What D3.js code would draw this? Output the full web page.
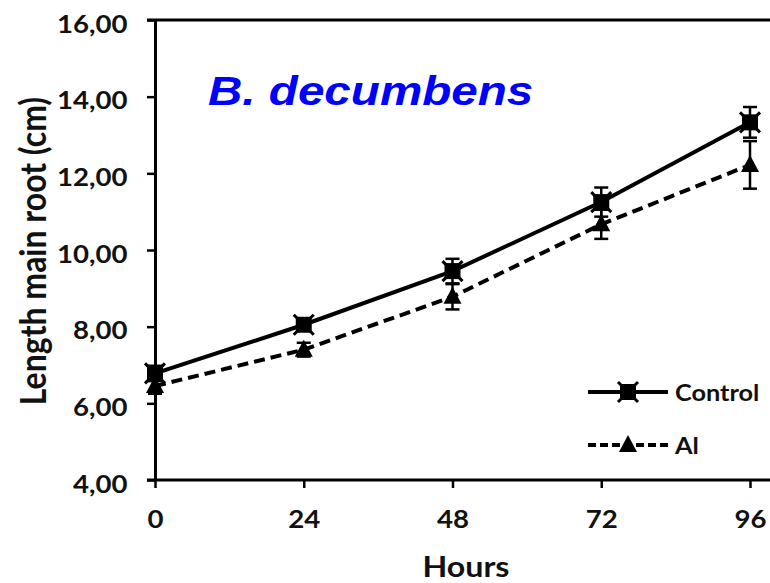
<!DOCTYPE html>
<html>
<head>
<meta charset="utf-8">
<script src="https://cdn.jsdelivr.net/npm/d3@7"></script>
<style>
  body { margin: 0; background: #fff; }
  svg { display: block; }
</style>
</head>
<body>
<svg id="chart" width="770" height="583"></svg>
<script>
// values
const hours = [0, 24, 48, 72, 96];
const controlMean = [6.78, 8.05, 9.45, 11.25, 13.33];
const controlErr = [0.2, 0.15, 0.32, 0.38, 0.4];
const alMean = [6.45, 7.4, 8.78, 10.67, 12.22];
const alErr = [0.2, 0.18, 0.33, 0.38, 0.62];
const yTicks = [4, 6, 8, 10, 12, 14, 16];
const seriesNames = ["Control", "Al"];

function whenDocumentLoaded(action) {
  if (document.readyState === "loading") {
    document.addEventListener("DOMContentLoaded", action);
  } else {
    action();
  }
}

whenDocumentLoaded(() => draw());

function draw() {
  const LEFT = 155, RIGHT = 750, TOP = 20, BOTTOM = 480;
  const STRETCH = 1.15; // the source picture is a bit wide
  const FONT = "Lato, 'Open Sans', sans-serif";

  const svg = d3.select("#chart");

  const x = d3.scaleLinear().domain([0, 96]).range([LEFT, RIGHT]);
  const y = d3.scaleLinear().domain([4, 16]).range([BOTTOM, TOP]);

  const comma = d => d3.format(".2f")(d).replace(".", ",");

  // top frame line
  svg.append("line")
    .attr("x1", LEFT - 8).attr("x2", 770)
    .attr("y1", y(16)).attr("y2", y(16))
    .attr("stroke", "#000").attr("stroke-width", 3);

  // y axis
  const yAxis = svg.append("g")
    .attr("transform", `translate(${LEFT},0)`)
    .call(d3.axisLeft(y).tickValues(yTicks).tickFormat(comma).tickSize(8).tickSizeOuter(0));
  yAxis.select(".domain").attr("stroke-width", 3);
  yAxis.selectAll(".tick line").attr("stroke-width", 2.5);
  yAxis.selectAll(".tick text")
    .attr("x", -24).attr("y", 12).attr("dy", 0)
    .attr("transform", `scale(${STRETCH},1)`)
    .attr("font-family", FONT).attr("font-weight", "bold")
    .attr("font-size", 24).attr("fill", "#111");

  // x axis
  const xAxis = svg.append("g")
    .attr("transform", `translate(0,${BOTTOM})`)
    .call(d3.axisBottom(x).tickValues(hours).tickSize(8).tickSizeOuter(0));
  xAxis.select(".domain").attr("d", `M${LEFT - 8},0H770`).attr("stroke-width", 3);
  xAxis.selectAll(".tick line").attr("stroke-width", 2.5);
  xAxis.selectAll(".tick text")
    .attr("y", 48).attr("dy", 0)
    .attr("transform", `scale(${STRETCH},1)`)
    .attr("x", 0)
    .attr("font-family", FONT).attr("font-weight", "bold")
    .attr("font-size", 24).attr("fill", "#111");

  // axis titles
  svg.append("text")
    .attr("transform", `translate(466,577) scale(${STRETCH},1)`)
    .attr("text-anchor", "middle")
    .attr("font-family", FONT).attr("font-weight", "bold")
    .attr("font-size", 28).attr("fill", "#111")
    .text("Hours");

  svg.append("text")
    .attr("transform", `translate(46,251) rotate(-90) scale(1,${STRETCH})`)
    .attr("text-anchor", "middle")
    .attr("font-family", FONT).attr("font-weight", "bold")
    .attr("font-size", 32).attr("fill", "#111")
    .text("Length main root (cm)");

  // species name
  svg.append("text")
    .attr("transform", `translate(208,105) scale(1.19,1)`)
    .attr("font-family", "'Liberation Sans', Arial, sans-serif")
    .attr("font-weight", "bold").attr("font-style", "italic")
    .attr("font-size", 40).attr("fill", "#0000ff")
    .text("B. decumbens");

  const series = [
    { name: seriesNames[0], mean: controlMean, err: controlErr, dash: null, marker: "square" },
    { name: seriesNames[1], mean: alMean, err: alErr, dash: "11,6", marker: "triangle" }
  ];

  const line = d3.line().x(d => x(d.h)).y(d => y(d.m));

  const squarePath = "M-8,-8H8V8H-8Z";
  const crossPath = "M-10,-10L10,10M10,-10L-10,10";
  const trianglePath = "M0,-10L9,7H-9Z";

  function drawMarker(g, type) {
    if (type === "square") {
      g.append("path").attr("d", squarePath).attr("fill", "#000");
      g.append("path").attr("d", crossPath).attr("stroke", "#000").attr("stroke-width", 3);
    } else {
      g.append("path").attr("d", trianglePath).attr("fill", "#000");
    }
  }

  series.forEach(s => {
    const pts = hours.map((h, i) => ({ h: h, m: s.mean[i], e: s.err[i] }));

    svg.append("path")
      .datum(pts)
      .attr("d", line)
      .attr("fill", "none")
      .attr("stroke", "#000")
      .attr("stroke-width", 4)
      .attr("stroke-dasharray", s.dash);

    // error bars
    const eb = svg.append("g").attr("stroke", "#000").attr("stroke-width", 2.5);
    pts.forEach(p => {
      eb.append("line")
        .attr("x1", x(p.h)).attr("x2", x(p.h))
        .attr("y1", y(p.m - p.e)).attr("y2", y(p.m + p.e));
      [p.m - p.e, p.m + p.e].forEach(v => {
        eb.append("line")
          .attr("x1", x(p.h) - 7).attr("x2", x(p.h) + 7)
          .attr("y1", y(v)).attr("y2", y(v));
      });
    });

    pts.forEach(p => {
      const g = svg.append("g").attr("transform", `translate(${x(p.h)},${y(p.m)})`);
      drawMarker(g, s.marker);
    });
  });

  // legend
  const legend = svg.append("g");
  series.forEach((s, i) => {
    const ly = 392 + i * 53;
    legend.append("line")
      .attr("x1", 588).attr("x2", 668)
      .attr("y1", ly).attr("y2", ly)
      .attr("stroke", "#000").attr("stroke-width", 4)
      .attr("stroke-dasharray", s.dash ? "8,4" : null);
    const g = legend.append("g").attr("transform", `translate(628,${ly})`);
    drawMarker(g, s.marker);
    legend.append("text")
      .attr("transform", `translate(675,${ly + 9}) scale(${STRETCH},1)`)
      .attr("font-family", FONT).attr("font-weight", "bold")
      .attr("font-size", 22).attr("fill", "#111")
      .text(s.name);
  });
}
</script>
</body>
</html>
